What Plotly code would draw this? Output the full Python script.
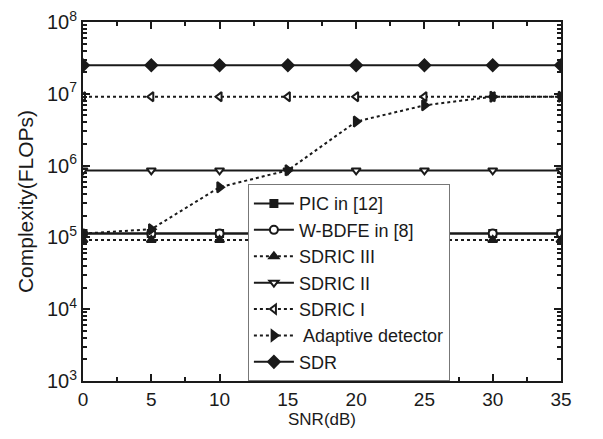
import plotly.graph_objects as go

snr_db = [0, 5, 10, 15, 20, 25, 30, 35]
pic = [1.13e5, 1.13e5, 1.13e5, 1.13e5, 1.13e5, 1.13e5, 1.13e5, 1.13e5]
wbdfe = [1.13e5, 1.13e5, 1.13e5, 1.13e5, 1.13e5, 1.13e5, 1.13e5, 1.13e5]
sdric3 = [9.2e4, 9.2e4, 9.2e4, 9.2e4, 9.2e4, 9.2e4, 9.2e4, 9.2e4]
sdric2 = [8.55e5, 8.55e5, 8.55e5, 8.55e5, 8.55e5, 8.55e5, 8.55e5, 8.55e5]
sdric1 = [9.1e6, 9.1e6, 9.1e6, 9.1e6, 9.1e6, 9.1e6, 9.1e6, 9.1e6]
adaptive = [1.13e5, 1.3e5, 5.0e5, 8.6e5, 4.1e6, 6.9e6, 9.1e6, 9.1e6]
sdr = [2.5e7, 2.5e7, 2.5e7, 2.5e7, 2.5e7, 2.5e7, 2.5e7, 2.5e7]

names = ["PIC in [12]", "W-BDFE in [8]", "SDRIC III", "SDRIC II", "SDRIC I",
         " Adaptive detector", "SDR"]
series = [pic, wbdfe, sdric3, sdric2, sdric1, adaptive, sdr]
symbols = ["square", "circle", "triangle-up", "triangle-down",
           "triangle-left", "triangle-right", "diamond"]
fills = ["ink", "white", "ink", "white", "white", "ink", "ink"]
dashes = ["solid", "solid", "3px,3px", "solid", "3px,3px", "3px,3px", "solid"]
sizes = [7, 8, 8, 8, 8, 9, 9]

y_tickvals = [1e3, 1e4, 1e5, 1e6, 1e7, 1e8]
y_ticktext = ["10<sup>3</sup>", "10<sup>4</sup>", "10<sup>5</sup>",
              "10<sup>6</sup>", "10<sup>7</sup>", "10<sup>8</sup>"]
minor_y = [m * 10 ** e for e in range(3, 8) for m in range(2, 10)]

ink = "#1a1a1a"
fig = go.Figure()
for name, ys, sym, fill, dash, sz in zip(names, series, symbols, fills, dashes, sizes):
    fig.add_trace(go.Scatter(
        x=snr_db, y=ys, name=name, mode="lines+markers",
        line=dict(color=ink, width=2, dash=dash),
        marker=dict(symbol=sym, size=sz, color=ink if fill == "ink" else "white",
                    line=dict(color=ink, width=2)),
    ))

fig.update_layout(
    width=603, height=439,
    margin=dict(l=75, r=50, t=14, b=66),
    paper_bgcolor="white", plot_bgcolor="white",
    font=dict(family="Liberation Sans, Arial, sans-serif", color=ink, size=18),
    showlegend=True,
    legend=dict(x=0.345, y=0.548, xanchor="left", yanchor="top",
                bgcolor="white", bordercolor="#777777", borderwidth=1,
                font=dict(size=18), tracegroupgap=0, itemwidth=40,
                entrywidth=172, entrywidthmode="pixels"),
    xaxis=dict(
        range=[0, 35], tickmode="array", tickvals=[0, 5, 10, 15, 20, 25, 30, 35],
        ticks="inside", ticklen=7, tickwidth=1.5, tickcolor=ink,
        showline=True, linewidth=2, linecolor=ink, mirror="ticks",
        showgrid=False, zeroline=False, automargin=False,
        ticklabeloverflow="allow",
        minor=dict(tickvals=[2.5, 7.5, 12.5, 17.5, 22.5, 27.5, 32.5],
                   ticks="inside", ticklen=4, tickcolor=ink, showgrid=False),
        title=dict(text="SNR(dB)", font=dict(size=17), standoff=4),
        tickfont=dict(size=19),
    ),
    yaxis=dict(
        type="log", range=[3, 8], tickmode="array",
        tickvals=y_tickvals, ticktext=y_ticktext,
        ticks="inside", ticklen=7, tickwidth=1.5, tickcolor=ink,
        showline=True, linewidth=2, linecolor=ink, mirror="ticks",
        showgrid=False, zeroline=False, automargin=False,
        ticklabeloverflow="allow",
        minor=dict(tickvals=minor_y, ticks="inside", ticklen=4, tickcolor=ink,
                   showgrid=False),
        title=dict(text="Complexity(FLOPs)", font=dict(size=21), standoff=8),
        tickfont=dict(size=20),
    ),
)

fig.write_html("out.html")
